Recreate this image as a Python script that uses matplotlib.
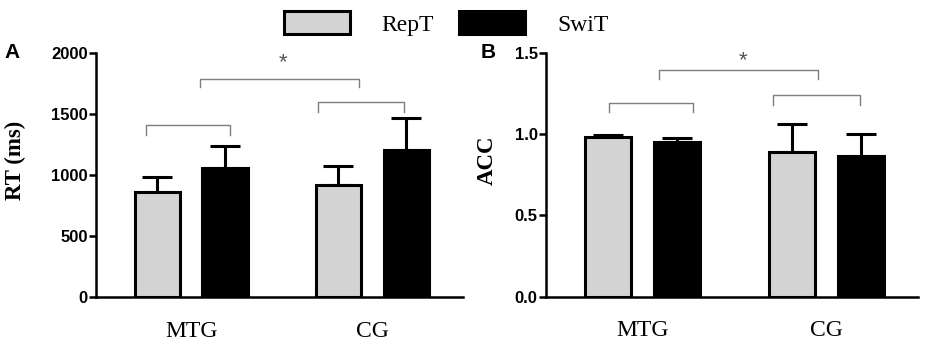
import numpy as np
import matplotlib.pyplot as plt

# data
groups = ['MTG', 'CG']
series = ['RepT', 'SwiT']
rt_mean = {'RepT': [860, 922], 'SwiT': [1055, 1205]}
rt_err = {'RepT': [125, 150], 'SwiT': [180, 265]}
acc_mean = {'RepT': [0.982, 0.890], 'SwiT': [0.953, 0.866]}
acc_err = {'RepT': [0.015, 0.170], 'SwiT': [0.025, 0.135]}
colors = {'RepT': '#d3d3d3', 'SwiT': '#000000'}

serif = ['Liberation Serif', 'DejaVu Serif']
sans = ['Liberation Sans', 'DejaVu Sans']

fig = plt.figure(figsize=(9.35, 3.45), dpi=100)
axA = fig.add_axes([0.1027, 0.139, 0.3925, 0.707])
axB = fig.add_axes([0.584, 0.140, 0.398, 0.707])

centers = np.array([2.0, 6.0])
offs = {'RepT': -0.75, 'SwiT': 0.75}
width = 1.0


def draw(ax, means, errs, ymax, yticks, ylabel, fmt, brackets, star, lx):
    for s in series:
        x = centers + offs[s]
        e = np.array(errs[s])
        ax.errorbar(x, means[s], yerr=[np.zeros_like(e), e], fmt='none',
                    ecolor='black', elinewidth=2.2, capsize=11, capthick=2.2, zorder=2)
        ax.bar(x, means[s], width=width, color=colors[s], edgecolor='black',
               linewidth=2.2, zorder=3, label=s)
    ax.set_xlim(-0.1, 8.0)
    ax.set_ylim(0, ymax)
    ax.set_yticks(yticks)
    ax.set_yticklabels([fmt % v for v in yticks], fontfamily=sans,
                       fontweight='bold', fontsize=12)
    ax.set_xticks(centers)
    ax.set_xticklabels(groups, fontfamily=serif, fontsize=17)
    ax.tick_params(axis='x', length=0, pad=17)
    ax.tick_params(axis='y', width=1.8, length=5, pad=1)
    ax.set_ylabel(ylabel, fontfamily=serif, fontweight='bold', fontsize=16.5)
    ax.yaxis.set_label_coords(lx, 0.56)
    for sp in ['top', 'right']:
        ax.spines[sp].set_visible(False)
    for sp in ['left', 'bottom']:
        ax.spines[sp].set_linewidth(1.8)
    for x0, x1, y, drop in brackets:
        ax.plot([x0, x0, x1, x1], [y - drop, y, y, y - drop], color='#7f7f7f',
                lw=1.0, clip_on=False, zorder=4)
    ax.text(star[0], star[1], '*', ha='center', va='center', color='#555555',
            fontsize=16, fontfamily=sans)


draw(axA, rt_mean, rt_err, 2000, [0, 500, 1000, 1500, 2000], 'RT (ms)', '%d',
     [(1.0, 2.85, 1410, 80), (4.8, 6.7, 1600, 80), (2.2, 5.7, 1790, 70)],
     (4.02, 1920), -0.19)
draw(axB, acc_mean, acc_err, 1.5, [0.0, 0.5, 1.0, 1.5], 'ACC', '%.1f',
     [(1.27, 3.1, 1.193, 0.06), (4.85, 6.73, 1.24, 0.06), (2.35, 5.83, 1.394, 0.055)],
     (4.18, 1.45), -0.13)

fig.text(0.005, 0.848, 'A', fontfamily=sans, fontweight='bold', fontsize=15, va='center')
fig.text(0.514, 0.848, 'B', fontfamily=sans, fontweight='bold', fontsize=15, va='center')

handles, labels = axA.get_legend_handles_labels()
fig.legend(handles, labels, loc='upper center', bbox_to_anchor=(0.477, 1.03), ncol=2,
           frameon=False, prop={'family': serif, 'size': 17}, handlelength=2.8,
           handleheight=1.15, columnspacing=1.05, handletextpad=1.35)

fig.savefig('out.png', dpi=100)
